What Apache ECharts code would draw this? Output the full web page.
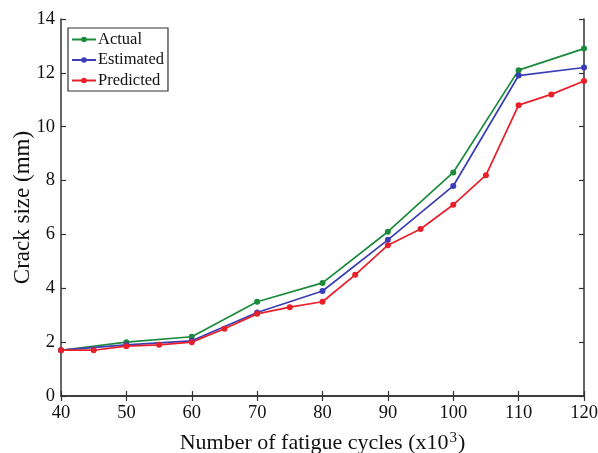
<!DOCTYPE html>
<html><head><meta charset="utf-8">
<script src="https://cdn.jsdelivr.net/npm/echarts@6/dist/echarts.min.js"></script>
<style>html,body{margin:0;padding:0;background:#fff}#c{width:598px;height:453px}</style>
</head><body><div id="c"></div>
<script>
const cyclesMain = [40, 50, 60, 70, 80, 90, 100, 110, 120];
const actual = [1.7, 2.0, 2.2, 3.5, 4.2, 6.1, 8.3, 12.1, 12.9];
const estimated = [1.7, 1.9, 2.05, 3.1, 3.9, 5.8, 7.8, 11.9, 12.2];
const cyclesPred = [40, 45, 50, 55, 60, 65, 70, 75, 80, 85, 90, 95, 100, 105, 110, 115, 120];
const predicted = [1.7, 1.7, 1.85, 1.9, 2.0, 2.5, 3.05, 3.3, 3.5, 4.5, 5.6, 6.2, 7.1, 8.2, 10.8, 11.2, 11.7];

const zip = (xs, ys) => xs.map((x, i) => [x, ys[i]]);
const font = 'Liberation Serif';
const axisLine = {show: true, lineStyle: {color: '#333', width: 1.5}};
const ticks = {show: true, inside: true, length: 5, lineStyle: {color: '#333', width: 1.2}};

const chart = echarts.init(document.getElementById('c'));
chart.setOption({
  animation: false,
  grid: {left: 61, right: 14, top: 19, bottom: 57, containLabel: false, outerBoundsMode: 'none'},
  legend: {
    left: 68, top: 28, orient: 'vertical',
    borderColor: '#333', borderWidth: 1.2, padding: [3, 4, 2, 3],
    itemGap: 3.5, itemWidth: 24, itemHeight: 7,
    textStyle: {fontFamily: font, fontSize: 16.5, color: '#111', padding: [0, 0, 0, -3]},
    data: ['Actual', 'Estimated', 'Predicted']
  },
  xAxis: [{
    type: 'value', min: 40, max: 120, interval: 10,
    name: '{a|Number of fatigue cycles (x10}{s|3}{a|)}', nameLocation: 'middle', nameGap: 35,
    nameMoveOverlap: false,
    nameTextStyle: {
      rich: {
        a: {fontFamily: font, fontSize: 22, color: '#111'},
        s: {fontFamily: font, fontSize: 15, color: '#111', verticalAlign: 'top', padding: [0, 1, 9, 1]}
      }
    },
    axisLine, axisTick: ticks, splitLine: {show: false},
    axisLabel: {fontFamily: font, fontSize: 18.5, color: '#111', margin: 8}
  }, {
    type: 'value', position: 'top', min: 40, max: 120, interval: 10,
    axisLine, axisTick: ticks, splitLine: {show: false}, axisLabel: {show: false}
  }],
  yAxis: [{
    type: 'value', min: 0, max: 14, interval: 2,
    name: 'Crack size (mm)', nameLocation: 'middle', nameGap: 27,
    nameMoveOverlap: false,
    nameTextStyle: {fontFamily: font, fontSize: 23, color: '#111'},
    axisLine, axisTick: ticks, splitLine: {show: false},
    axisLabel: {fontFamily: font, fontSize: 18.5, color: '#111', margin: 6}
  }, {
    type: 'value', position: 'right', min: 0, max: 14, interval: 2,
    axisLine, axisTick: ticks, splitLine: {show: false}, axisLabel: {show: false}
  }],
  series: [
    {name: 'Actual', type: 'line', data: zip(cyclesMain, actual), color: '#1b8a3c',
     symbol: 'circle', symbolSize: 6, lineStyle: {width: 1.7}},
    {name: 'Estimated', type: 'line', data: zip(cyclesMain, estimated), color: '#3b3db5',
     symbol: 'circle', symbolSize: 6, lineStyle: {width: 1.7}},
    {name: 'Predicted', type: 'line', data: zip(cyclesPred, predicted), color: '#e8202a',
     symbol: 'circle', symbolSize: 6, lineStyle: {width: 1.7}}
  ]
});
</script></body></html>
